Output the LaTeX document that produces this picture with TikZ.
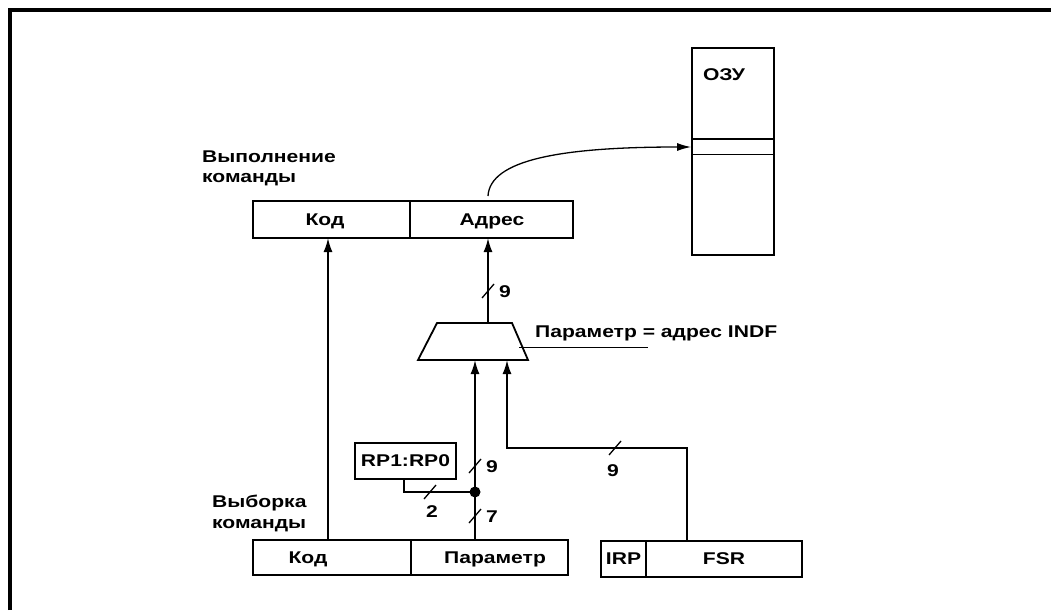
\documentclass[tikz,border=0pt]{standalone}
\usepackage{fontspec}
\setmainfont[FakeStretch=1.24]{Liberation Sans}
\usetikzlibrary{arrows.meta}
\tikzset{
  box/.style={draw,line width=1.8pt,rectangle,inner sep=0pt,font=\fontsize{17}{19}\selectfont\bfseries},
  wire/.style={line width=1.8pt},
  arr/.style={line width=1.8pt,-{Latex[length=14pt,width=9pt]}},
  slash/.style={line width=1.3pt},
  lbl/.style={font=\fontsize{17}{19}\selectfont\bfseries,inner sep=0pt},
}
\begin{document}
\begin{tikzpicture}[x=1pt,y=-1pt]
\useasboundingbox (0,0) rectangle (1051,610);
% frame
\draw[line width=4pt] (10,610) -- (10,10) -- (1051,10);
% top register
\node[box,minimum width=157pt,minimum height=37pt] (kodA) at (331.5,219.5) {};
\node[box,minimum width=163pt,minimum height=37pt] (adrA) at (491.5,219.5) {};
\node[lbl] (tkodA) at (325,221) {Код};
\node[lbl] (tadrA) at (492,221) {Адрес};
\node[lbl,anchor=west] (exec1) at (202,157) {Выполнение};
\node[lbl,anchor=west] (exec2) at (202,180) {команды};
% bottom register
\node[box,minimum width=158pt,minimum height=35pt] (kodB) at (332,557.5) {};
\node[box,minimum width=157pt,minimum height=35pt] (parB) at (489.5,557.5) {};
\node[lbl] (tkodB) at (308,559) {Код};
\node[lbl] (tparB) at (495,559) {Параметр};
\node[lbl,anchor=west] (fetch1) at (212,503) {Выборка};
\node[lbl,anchor=west] (fetch2) at (212,526) {команды};
% FSR
\node[box,minimum width=45pt,minimum height=36pt] (irp) at (623.5,559) {IRP};
\node[box,minimum width=156pt,minimum height=36pt] (fsr) at (724,559) {FSR};
% RP box
\node[box,minimum width=101pt,minimum height=36pt] (rp) at (405.5,461) {RP1:RP0};
% RAM
\node[box,minimum width=82pt,minimum height=207pt] (ram) at (733,151.5) {};
\node[lbl] (tram) at (724,75) {ОЗУ};
\draw[line width=1.8pt] (ram.west |- 0,139) -- (ram.east |- 0,139);
\draw[line width=0.9pt] (ram.west |- 0,154) -- (ram.east |- 0,154);
\coordinate (ramcell) at (ram.west |- 0,147);
% mux
\coordinate (muxout) at (488,323);
\coordinate (in1) at (475,360);
\coordinate (in2) at (507,360);
\draw[line width=1.8pt] (437,323) -- (512,323) -- (528,360) -- (418,360) -- cycle;
\node[lbl,anchor=west] (muxlbl) at (535,333) {Параметр = адрес INDF};
\draw[line width=0.9pt] (519,347) -- (648,347);
% connectors
\draw[arr] (328,540) -- (328,238);
\draw[arr] (muxout) -- (488,238);
\draw[arr] (475,540) -- (in1);
\draw[arr] (fsr.north -| 687,0) -- (687,448) -- (507,448) -- (in2);
\fill (475,492) circle (5.5pt);
\coordinate (dot) at (475,492);
\draw[wire] (rp.south -| 404,0) -- (404,492) -- (dot);
\draw[line width=1.3pt,-{Latex[length=14pt,width=8pt]}] (488,196) .. controls (490,160) and (560,147) .. (ramcell);
% bus width marks
\draw[slash] (482,298) -- (494,284);
\node[lbl] (n9a) at (505,292) {9};
\draw[slash] (469,473) -- (481,459);
\node[lbl] (n9b) at (492,467) {9};
\draw[slash] (469,523) -- (481,509);
\node[lbl] (n7) at (492,517) {7};
\draw[slash] (424,499) -- (436,485);
\node[lbl] (n2) at (432,512) {2};
\draw[slash] (609,455) -- (621,441);
\node[lbl] (n9c) at (613,471) {9};
\end{tikzpicture}
\end{document}
